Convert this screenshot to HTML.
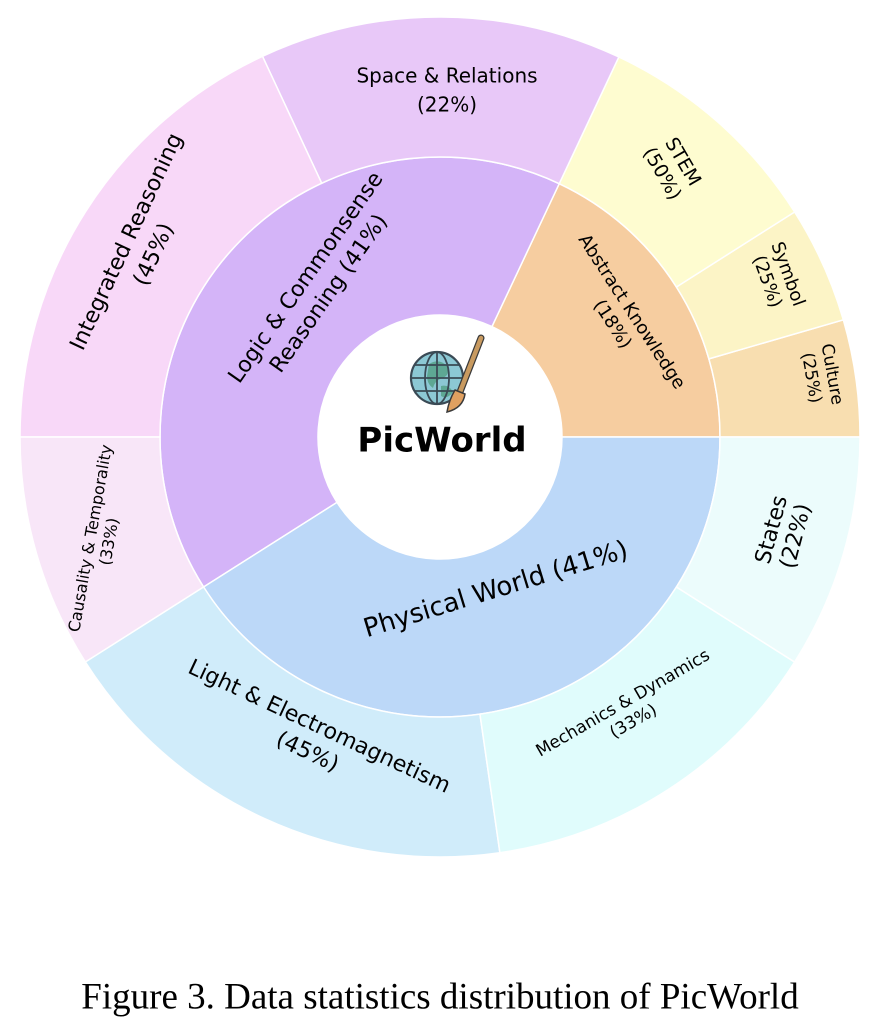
<!DOCTYPE html>
<html><head><meta charset="utf-8"><style>
html,body{margin:0;padding:0;background:#fff;width:878px;height:1036px;overflow:hidden}
svg text{font-family:"Comic Sans MS","DejaVu Sans","Liberation Sans",sans-serif;fill:#000;text-anchor:middle;dominant-baseline:middle}
</style></head><body>
<svg id="s" width="878" height="1036" viewBox="0 0 878 1036">
<g id="w"></g>
<circle cx="440" cy="437" r="122" fill="#fff"/>
<g transform="translate(437,378)">
<circle r="26" fill="#8cc8d4" stroke="#3a4a55" stroke-width="2.2"/>
<path d="M-8,-14 q10,-6 18,2 q4,8 -4,12 q-8,2 -10,10 q-6,-4 -6,-12 z M4,8 q8,-2 12,6 q-6,8 -12,4z" fill="#5ea894"/>
<ellipse rx="12" ry="26" fill="none" stroke="#3a4a55" stroke-width="1.8"/>
<line x1="0" y1="-26" x2="0" y2="26" stroke="#3a4a55" stroke-width="1.8"/>
<line x1="-26" y1="0" x2="26" y2="0" stroke="#3a4a55" stroke-width="1.8"/>
<line x1="-22" y1="-13" x2="22" y2="-13" stroke="#3a4a55" stroke-width="1.8"/>
<line x1="-22" y1="13" x2="22" y2="13" stroke="#3a4a55" stroke-width="1.8"/>
</g>
<line x1="481" y1="338" x2="460" y2="392" stroke="#3a3a3a" stroke-width="7" stroke-linecap="round"/>
<line x1="481" y1="338" x2="460" y2="392" stroke="#c89a60" stroke-width="4.5" stroke-linecap="round"/>
<path d="M455,390 l10,4 q-2,14 -18,18 q2,-12 8,-22z" fill="#e0a060" stroke="#3a3a3a" stroke-width="1.5"/>
<text x="442" y="442" font-size="34" font-weight="bold">PicWorld</text>

<text x="447" y="77" font-size="20">Space &amp; Relations</text>
<text x="447" y="106" font-size="20">(22%)</text>
<g transform="translate(140,248) rotate(-65)"><text y="-14" font-size="22">Integrated Reasoning</text><text y="16" font-size="22">(45%)</text></g>
<g transform="translate(318,286) rotate(-55)"><text y="-14" font-size="22">Logic &amp; Commonsense</text><text y="14" font-size="22">Reasoning (41%)</text></g>
<g transform="translate(672,168) rotate(60)"><text y="-12" font-size="19">STEM</text><text y="12" font-size="19">(50%)</text></g>
<g transform="translate(777,278) rotate(70)"><text y="-11" font-size="18">Symbol</text><text y="11" font-size="18">(25%)</text></g>
<g transform="translate(822,376) rotate(80)"><text y="-10" font-size="17">Culture</text><text y="11" font-size="17">(25%)</text></g>
<g transform="translate(622,318) rotate(57)"><text y="-11" font-size="18">Abstract Knowledge</text><text y="12" font-size="18">(18%)</text></g>
<g transform="translate(496,590) rotate(-17)"><text font-size="26">Physical World (41%)</text></g>
<g transform="translate(784,533) rotate(-75)"><text y="-12" font-size="22">States</text><text y="13" font-size="22">(22%)</text></g>
<g transform="translate(628,712) rotate(-30)"><text y="-10" font-size="17">Mechanics &amp; Dynamics</text><text y="11" font-size="17">(33%)</text></g>
<g transform="translate(313,740) rotate(25)"><text y="-14" font-size="22">Light &amp; Electromagnetism</text><text y="14" font-size="22">(45%)</text></g>
<g transform="translate(100,540) rotate(-80)"><text y="-9" font-size="16">Causality &amp; Temporality</text><text y="10" font-size="16">(33%)</text></g>

<text x="440" y="1000" style="font-family:'Liberation Serif',serif;font-size:37px">Figure 3. Data statistics distribution of PicWorld</text>
</svg>
<script>
var cx=440,cy=437,g=document.getElementById('w');
function P(r,a){a=a*Math.PI/180;return (cx+r*Math.cos(a)).toFixed(2)+','+(cy-r*Math.sin(a)).toFixed(2);}
function wedge(r0,r1,a0,a1,c){var l=(a1-a0)>180?1:0;
var d='M'+P(r0,a0)+' L'+P(r1,a0)+' A'+r1+','+r1+' 0 '+l+' 0 '+P(r1,a1)+' L'+P(r0,a1)+' A'+r0+','+r0+' 0 '+l+' 1 '+P(r0,a0)+'Z';
var p=document.createElementNS('http://www.w3.org/2000/svg','path');p.setAttribute('d',d);p.setAttribute('fill',c);p.setAttribute('stroke','#fff');p.setAttribute('stroke-width','1.5');g.appendChild(p);}
var R0=122,R1=280,R2=420;
wedge(R0,R1,0,64.8,'#f6cda0');
wedge(R0,R1,64.8,212.4,'#d4b4f8');
wedge(R0,R1,212.4,360,'#bcd8f8');
wedge(R1,R2,0,16.2,'#f8deb0');
wedge(R1,R2,16.2,32.4,'#fcf4c6');
wedge(R1,R2,32.4,64.8,'#fefcd0');
wedge(R1,R2,64.8,115,'#e8c8f8');
wedge(R1,R2,115,180,'#f8d8f8');
wedge(R1,R2,180,212.4,'#f8e6f8');
wedge(R1,R2,212.4,278.2,'#d0ecfa');
wedge(R1,R2,278.2,327.6,'#e0fcfc');
wedge(R1,R2,327.6,360,'#ecfcfc');
</script>
</body></html>
